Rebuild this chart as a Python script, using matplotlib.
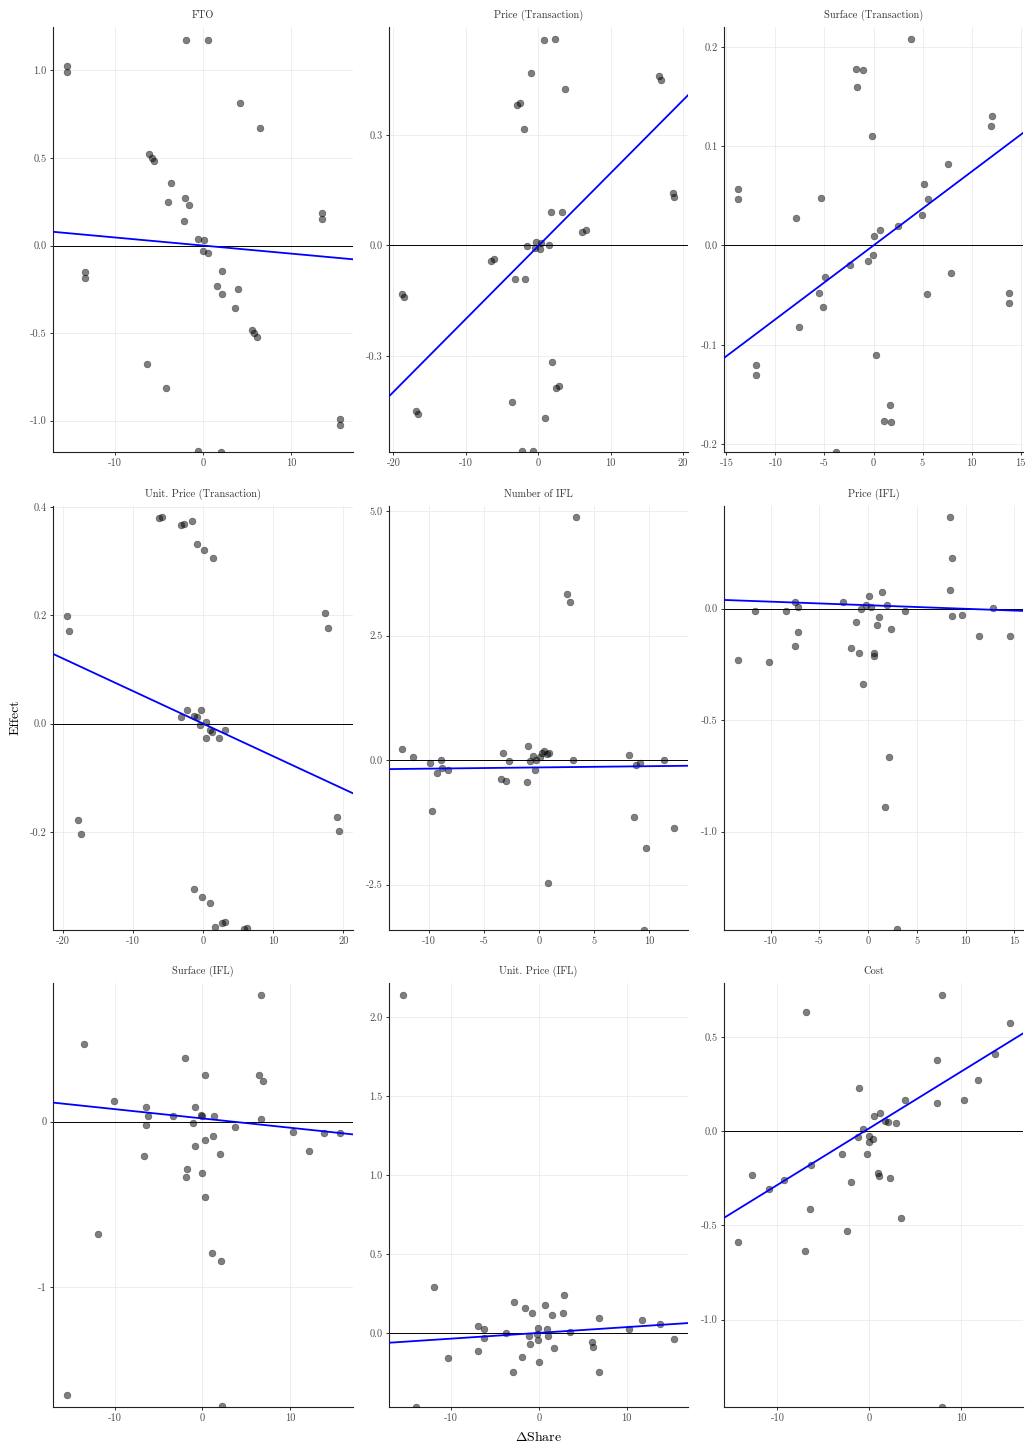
"""Faceted scatter of effects against share change, one panel per outcome."""

import matplotlib

matplotlib.use("Agg")
import matplotlib.pyplot as plt
from matplotlib.ticker import FormatStrFormatter

plt.rcParams["font.family"] = "serif"
plt.rcParams["font.serif"] = ["cmr10", "DejaVu Serif"]
plt.rcParams["mathtext.fontset"] = "cm"
plt.rcParams["axes.unicode_minus"] = False
plt.rcParams["axes.formatter.use_mathtext"] = False

TITLES = [
    "FTO", "Price (Transaction)", "Surface (Transaction)",
    "Unit. Price (Transaction)", "Number of IFL", "Price (IFL)",
    "Surface (IFL)", "Unit. Price (IFL)", "Cost",
]

fto_x = [-1.98, 0.61, -15.48, -15.48, 4.26, 6.43, -6.12, -5.82, -5.59, -3.65, -2.09, -4.03,
         -1.56, -2.13, 13.50, 13.50, -0.53, 0.08, -0.04, 0.57, -13.46, -13.46, 2.17, 1.60,
         2.13, 4.03, 3.69, 5.63, 5.82, 6.16, -6.39, -4.22, 15.55, 15.55, -0.57, 2.02]
fto_y = [1.176, 1.172, 1.024, 0.991, 0.814, 0.674, 0.523, 0.500, 0.481, 0.358, 0.272, 0.249,
         0.232, 0.141, 0.186, 0.152, 0.040, 0.032, -0.032, -0.042, -0.152, -0.186, -0.143, -0.232,
         -0.274, -0.249, -0.358, -0.481, -0.497, -0.523, -0.674, -0.816, -0.991, -1.024, -1.174, -1.178]

price_tr_x = [0.78, 2.30, -0.97, 16.64, 16.92, 3.68, -2.90, -2.48, -1.89, 18.57, 18.80, 1.84,
              3.31, 6.11, 6.57, -0.23, 0.46, -1.47, 1.52, -0.46, 0.28, -6.57, -6.11, -3.26,
              -1.75, -18.76, -18.53, 1.93, 2.53, 2.94, -3.63, -16.87, -16.64, 1.01, -2.21, -0.69]
price_tr_y = [0.557, 0.560, 0.469, 0.459, 0.449, 0.424, 0.381, 0.387, 0.317, 0.142, 0.132, 0.090,
              0.091, 0.036, 0.043, 0.009, 0.007, -0.003, 0.002, -0.007, -0.010, -0.043, -0.036, -0.091,
              -0.090, -0.132, -0.141, -0.317, -0.387, -0.382, -0.424, -0.449, -0.458, -0.469, -0.559, -0.557]

surface_tr_x = [3.87, -1.83, -1.09, -1.70, -0.20, 12.06, 12.03, 7.65, -13.83, -13.86, -5.40, 5.20,
                5.57, -7.88, 4.96, 2.48, 0.65, 0.03, -0.03, -0.61, -2.41, -4.93, 7.88, -5.57,
                5.44, -5.20, 13.86, 13.83, -7.65, 0.24, -11.99, -12.03, 1.73, 1.09, 1.83, -3.87]
surface_tr_y = [0.208, 0.178, 0.177, 0.160, 0.110, 0.130, 0.120, 0.082, 0.057, 0.047, 0.048, 0.062,
                0.047, 0.028, 0.031, 0.020, 0.016, 0.010, -0.010, -0.016, -0.020, -0.032, -0.028, -0.048,
                -0.049, -0.062, -0.048, -0.058, -0.082, -0.110, -0.120, -0.130, -0.161, -0.177, -0.178, -0.208]

unit_tr_x = [-6.25, -5.82, -3.15, -2.72, -1.62, -0.95, 0.05, 1.34, -19.52, -19.14, 17.47, 17.85,
             -2.34, -0.38, -3.15, -1.29, -0.95, 0.43, -0.43, 0.91, 1.24, 0.38, 2.29, 3.15,
             -17.85, -17.47, 19.09, 19.47, -1.38, -0.10, 0.95, 1.62, 2.67, 3.10, 5.78, 6.21]
unit_tr_y = [0.379, 0.381, 0.367, 0.369, 0.375, 0.332, 0.320, 0.306, 0.199, 0.172, 0.204, 0.177,
             0.026, 0.026, 0.012, 0.015, 0.012, 0.003, -0.003, -0.012, -0.015, -0.026, -0.026, -0.012,
             -0.177, -0.203, -0.172, -0.198, -0.305, -0.320, -0.331, -0.375, -0.368, -0.366, -0.379, -0.378]

n_ifl_x = [-12.42, -11.45, -9.85, -8.91, -9.24, -8.79, -8.28, -9.70, -3.23, -2.72, -3.47, -2.99,
           -1.00, -1.06, -0.85, -0.54, -0.24, -0.36, 0.09, 0.24, 0.42, 0.73, 0.91, 2.54,
           2.84, 3.32, 3.08, 0.82, 8.13, 8.76, 9.12, 11.30, 8.61, 12.24, 9.67, 9.55]
n_ifl_y = [0.221, 0.067, -0.060, -0.007, -0.261, -0.161, -0.207, -1.030, 0.147, -0.027, -0.388, -0.428,
           0.274, -0.448, -0.020, 0.074, 0.000, -0.207, 0.067, 0.147, 0.181, 0.114, 0.147, 3.33,
           3.17, 4.87, 0.000, -2.47, 0.107, -0.107, -0.054, 0.000, -1.151, -1.371, -1.766, -3.40]

price_ifl_x = [-13.39, -11.61, -10.21, -8.46, -7.47, -7.19, -7.19, -7.47, -2.57, -1.78, -1.20, -0.99,
               -0.72, -0.51, -0.24, 0.10, 0.34, 0.58, 0.58, 0.86, 1.10, 1.40, 1.92, 2.36,
               3.77, 2.19, 1.68, 2.98, 8.39, 8.66, 8.39, 8.66, 9.66, 11.40, 12.77, 14.55]
price_ifl_y = [-0.229, -0.013, -0.241, -0.010, 0.030, 0.009, -0.105, -0.166, 0.030, -0.176, -0.060, -0.197,
               0.000, -0.338, 0.016, 0.057, 0.006, -0.197, -0.214, -0.072, -0.036, 0.073, 0.018, -0.093,
               -0.013, -0.664, -0.888, -1.436, 0.410, 0.229, 0.084, -0.033, -0.028, -0.123, 0.003, -0.121]

surface_ifl_x = [6.72, -13.55, -2.02, 0.27, 6.49, 6.91, -10.04, -6.45, -6.26, -6.45, -3.40, -0.88,
                 -1.03, -0.11, 0.00, 1.30, 6.72, 3.70, 10.31, 13.85, 15.73, 12.18, 0.34, 1.18,
                 -0.84, -6.64, 1.98, -1.72, -1.87, -0.08, 0.34, -11.95, 1.11, 2.14, -15.46, 2.29]
surface_ifl_y = [0.767, 0.469, 0.384, 0.282, 0.284, 0.247, 0.127, 0.089, 0.034, -0.020, 0.034, 0.087,
                 -0.010, 0.040, 0.034, 0.034, 0.018, -0.032, -0.062, -0.066, -0.066, -0.179, -0.109, -0.085,
                 -0.145, -0.207, -0.193, -0.286, -0.336, -0.310, -0.455, -0.678, -0.793, -0.841, -1.650, -1.720]

unit_ifl_x = [-15.49, -11.89, -14.02, -10.34, -6.93, -6.21, -6.21, -6.97, -3.67, -2.84, -2.95, -1.59,
              -1.86, -0.80, -1.14, -1.02, -0.08, -0.19, -0.04, 0.04, 0.68, 0.95, 1.02, 1.48,
              1.78, 2.77, 2.88, 3.60, 6.10, 6.14, 6.86, 6.86, 10.27, 11.78, 13.86, 15.42]
unit_ifl_y = [2.139, 0.295, -0.463, -0.154, 0.046, 0.029, -0.032, -0.109, 0.004, 0.198, -0.246, 0.158,
              -0.152, 0.126, -0.015, -0.069, 0.036, -0.004, -0.044, -0.183, 0.181, 0.029, -0.015, 0.116,
              -0.095, 0.126, 0.244, 0.006, -0.051, -0.086, 0.095, -0.244, 0.029, 0.084, 0.059, -0.038]

cost_x = [7.93, -6.92, 15.25, 7.39, 13.70, 11.81, -1.09, 3.91, 10.25, 7.36, 1.20, 0.51,
          1.70, 2.07, 2.93, -0.72, -1.23, 0.00, 0.43, -0.07, -2.97, -0.22, -6.38, -12.75,
          -9.31, -10.87, -1.96, 0.98, 1.01, 2.21, -6.41, 3.41, -2.43, -14.31, -6.99, 7.90]
cost_y = [0.724, 0.633, 0.576, 0.380, 0.412, 0.272, 0.230, 0.166, 0.164, 0.147, 0.099, 0.083,
          0.055, 0.048, 0.042, 0.009, -0.030, -0.023, -0.041, -0.057, -0.120, -0.122, -0.177, -0.231,
          -0.258, -0.309, -0.267, -0.223, -0.237, -0.246, -0.412, -0.458, -0.530, -0.587, -0.634, -1.461]

SERIES = [
    (fto_x, fto_y), (price_tr_x, price_tr_y), (surface_tr_x, surface_tr_y),
    (unit_tr_x, unit_tr_y), (n_ifl_x, n_ifl_y), (price_ifl_x, price_ifl_y),
    (surface_ifl_x, surface_ifl_y), (unit_ifl_x, unit_ifl_y), (cost_x, cost_y),
]

# fitted lines as drawn in the source figure
FIT_SLOPE = [-0.0046, 0.0198, 0.00743, -0.00601, 0.00247, -0.0016, -0.00561, 0.00365, 0.0301]
FIT_INTERCEPT = [0.0, -0.002, 0.0, 0.0, -0.147, 0.0151, 0.019, 0.0034, 0.0159]

X_TICKS = [
    [-10, 0, 10], [-20, -10, 0, 10, 20], [-15, -10, -5, 0, 5, 10, 15],
    [-20, -10, 0, 10, 20], [-10, -5, 0, 5, 10], [-10, -5, 0, 5, 10, 15],
    [-10, 0, 10], [-10, 0, 10], [-10, 0, 10],
]
Y_TICKS = [
    [-1.0, -0.5, 0.0, 0.5, 1.0], [-0.3, 0.0, 0.3], [-0.2, -0.1, 0.0, 0.1, 0.2],
    [-0.2, 0.0, 0.2, 0.4], [-2.5, 0.0, 2.5, 5.0], [-1.0, -0.5, 0.0],
    [-1, 0], [0.0, 0.5, 1.0, 1.5, 2.0], [-1.0, -0.5, 0.0, 0.5],
]
Y_FMT = ["%.1f"] * 6 + ["%d"] + ["%.1f"] * 2

# view windows (free scales per facet)
X_LIM = [(-17.07, 17.07), (-20.6, 20.7), (-15.25, 15.25),
         (-21.45, 21.4), (-13.6, 13.5), (-14.8, 15.9),
         (-17.05, 17.2), (-17.05, 17.0), (-15.8, 16.7)]
Y_LIM = [(-1.179, 1.248), (-0.561, 0.593), (-0.208, 0.220),
         (-0.381, 0.402), (-3.41, 5.10), (-1.441, 0.460),
         (-1.724, 0.837), (-0.465, 2.215), (-1.463, 0.786)]

W, H = 1025, 1445
COL_LEFT = [53, 389, 724]
COL_WIDTH = [300, 299, 299]
ROW_TOP = [27, 506, 983]
ROW_BOTTOM = [452, 930, 1407]


def main() -> None:
    fig = plt.figure(figsize=(W / 100, H / 100), dpi=100)
    fig.patch.set_facecolor("white")

    for i, (xs, ys) in enumerate(SERIES):
        r, c = divmod(i, 3)
        ax = fig.add_axes([
            COL_LEFT[c] / W,
            1 - ROW_BOTTOM[r] / H,
            COL_WIDTH[c] / W,
            (ROW_BOTTOM[r] - ROW_TOP[r]) / H,
        ])
        ax.set_xlim(*X_LIM[i])
        ax.set_ylim(*Y_LIM[i])
        ax.set_xticks(X_TICKS[i])
        ax.set_yticks(Y_TICKS[i])
        ax.xaxis.set_major_formatter(FormatStrFormatter("%d"))
        ax.yaxis.set_major_formatter(FormatStrFormatter(Y_FMT[i]))
        ax.grid(True, color="#ebebeb", linewidth=0.6)
        ax.set_axisbelow(True)
        for side in ("top", "right"):
            ax.spines[side].set_visible(False)
        for side in ("left", "bottom"):
            ax.spines[side].set_color("#222222")
            ax.spines[side].set_linewidth(0.8)
        ax.tick_params(length=2.2, width=0.7, color="#333333", labelsize=7.5,
                       labelcolor="#4d4d4d", pad=2.5)

        ax.axhline(0, color="black", linewidth=0.7, zorder=2)
        ax.scatter(xs, ys, s=24, color="black", alpha=0.5, edgecolors="black",
                   linewidths=0.4, zorder=3)
        ax.axline((0, FIT_INTERCEPT[i]), slope=FIT_SLOPE[i], color="#0000ff",
                  linewidth=1.3, zorder=4)
        ax.set_title(TITLES[i], fontsize=7.5, color="#333333", pad=6.5)

    fig.text(15 / W, 1 - 717 / H, "Effect", rotation=90, ha="center", va="center",
             fontsize=10)
    fig.text(539 / W, 1 - 1437 / H, r"$\Delta$Share", ha="center", va="center",
             fontsize=10)

    fig.savefig("out.png", dpi=100)
    plt.close(fig)


if __name__ == "__main__":
    main()
